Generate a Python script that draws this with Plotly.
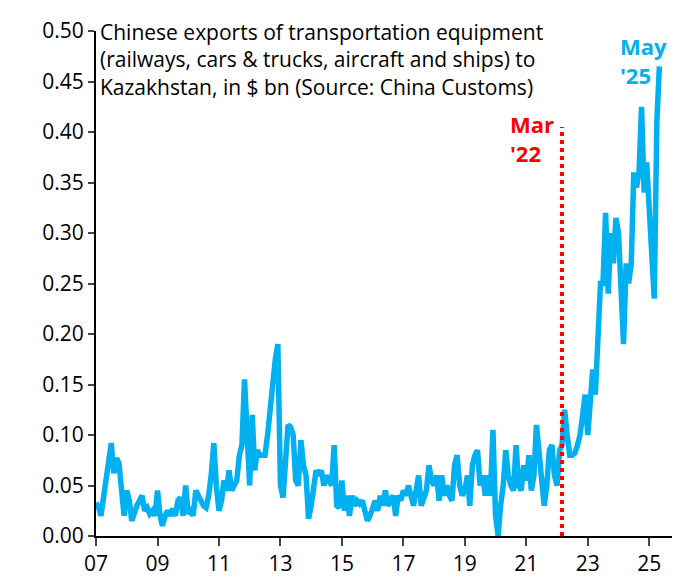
import plotly.graph_objects as go
import pandas as pd

v = [
0.033,0.028,0.02,0.04,0.06,0.07,0.092,0.062,0.077,0.072,0.045,0.02,
0.045,0.035,0.015,0.025,0.03,0.035,0.04,0.025,0.028,0.022,0.025,0.02,
0.045,0.02,0.01,0.02,0.025,0.02,0.027,0.02,0.035,0.038,0.02,0.05,
0.022,0.025,0.02,0.045,0.04,0.035,0.03,0.028,0.04,0.06,0.092,0.05,
0.025,0.035,0.055,0.045,0.065,0.045,0.05,0.055,0.08,0.09,0.155,0.1,
0.05,0.12,0.065,0.085,0.08,0.08,0.08,0.1,0.13,0.16,0.175,0.19,
0.05,0.038,0.07,0.11,0.108,0.1,0.055,0.05,0.095,0.07,0.06,0.017,
0.03,0.05,0.065,0.06,0.065,0.05,0.06,0.055,0.05,0.09,0.03,0.028,
0.055,0.025,0.04,0.02,0.04,0.03,0.035,0.032,0.035,0.025,0.015,0.02,
0.03,0.035,0.025,0.04,0.03,0.045,0.03,0.035,0.04,0.02,0.04,0.035,
0.045,0.04,0.05,0.04,0.03,0.045,0.06,0.03,0.04,0.045,0.07,0.055,
0.05,0.06,0.035,0.06,0.04,0.05,0.04,0.035,0.07,0.08,0.05,0.04,
0.045,0.06,0.03,0.07,0.08,0.085,0.05,0.06,0.04,0.06,0.04,0.105,
0.02,0.0,0.03,0.05,0.085,0.06,0.05,0.045,0.09,0.05,0.045,0.07,
0.055,0.08,0.045,0.06,0.11,0.08,0.05,0.03,0.05,0.085,0.09,0.06,
0.05,0.085,0.09,0.125,0.1,0.08,0.08,0.082,0.09,0.1,0.12,0.14,
0.1,0.13,0.165,0.14,0.2,0.25,0.25,0.32,0.24,0.3,0.27,0.315,
0.3,0.25,0.19,0.27,0.25,0.27,0.36,0.345,0.36,0.425,0.34,0.37,
0.33,0.28,0.235,0.41,0.465]
dates = pd.date_range("2007-01-01", periods=len(v), freq="MS")
tick_years = list(range(2007, 2026, 2))
tick_text = [f"{y%100:02d}" for y in tick_years]

fig = go.Figure(go.Scatter(x=dates, y=v, mode="lines", line=dict(color="#00B0F0", width=5.5)))
fig.add_shape(type="line", x0="2022-03-01", x1="2022-03-01", y0=0, y1=0.405, line=dict(color="#FF0000", width=4, dash="dot"))
fig.add_annotation(x="2022-03-01", y=0.425, text="<b>Mar<br>'22</b>", showarrow=False, xanchor="right", xshift=-6, yanchor="top", align="left", font=dict(color="#FF0000", size=22))
fig.add_annotation(x="2025-05-01", y=0.5, text="<b>May<br>'25</b>", showarrow=False, xanchor="right", xshift=10, yanchor="top", yshift=2, align="left", font=dict(color="#00B0F0", size=22))
fig.add_annotation(x=0.0, y=1.03, xref="paper", yref="paper", xanchor="left", yanchor="top", showarrow=False, align="left", xshift=2,
    text="Chinese exports of transportation equipment<br>(railways, cars & trucks, aircraft and ships) to<br>Kazakhstan, in $ bn (Source: China Customs)",
    font=dict(size=21, color="black"))
fig.update_layout(width=680, height=577, margin=dict(l=88, r=8, t=21, b=44), plot_bgcolor="white", paper_bgcolor="white",
    showlegend=False, font=dict(family="Open Sans, sans-serif", color="black", size=21))
fig.update_xaxes(range=["2007-01-01", "2026-01-01"], tickvals=[f"{y}-01-01" for y in tick_years], ticktext=tick_text,
    showline=True, linecolor="black", linewidth=2, ticks="outside", ticklen=8, tickwidth=2, showgrid=False)
fig.update_yaxes(range=[0, 0.5], dtick=0.05, tickformat=".2f", showline=True, linecolor="black", linewidth=2,
    ticks="outside", ticklen=6, tickwidth=2, showgrid=False, zeroline=False)
fig.write_html("out.html")
